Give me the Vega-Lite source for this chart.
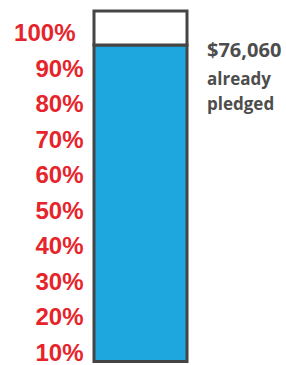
{
  "$schema": "https://vega.github.io/schema/vega-lite/v6.json",
  "width": 93,
  "height": 365,
  "autosize": "none",
  "padding": {"left": 94, "top": 0, "right": 99, "bottom": 0},
  "background": "white",
  "config": {"view": {"stroke": null}},
  "datasets": {
    "tube": [
      {"segment": "pledged", "from": 7.76, "to": 96.77},
      {"segment": "remaining", "from": 96.77, "to": 106.33}
    ],
    "summary": [
      {"pledged_usd": 76060}
    ]
  },
  "layer": [
    {
      "data": {"name": "tube"},
      "mark": {"type": "rect", "stroke": "#454545", "strokeWidth": 3},
      "encoding": {
        "y": {
          "field": "from",
          "type": "quantitative",
          "scale": {"domain": [6.78, 109.42], "nice": false, "zero": false},
          "axis": {
            "values": [10, 20, 30, 40, 50, 60, 70, 80, 90, 100],
            "labelExpr": "datum.value + '%'",
            "ticks": false,
            "domain": false,
            "grid": false,
            "title": null,
            "labelFont": "Liberation Sans",
            "labelFontSize": 24,
            "labelFontWeight": "bold",
            "labelColor": "#e6242b",
            "labelBaseline": "middle",
            "labelOverlap": false,
            "labelFlush": false,
            "labelPadding": {"condition": {"test": "datum.value == 100", "value": 19}, "value": 11}
          }
        },
        "y2": {"field": "to"},
        "fill": {
          "field": "segment",
          "type": "nominal",
          "scale": {"domain": ["pledged", "remaining"], "range": ["#1ea6df", "#ffffff"]},
          "legend": null
        }
      }
    },
    {
      "data": {"name": "summary"},
      "mark": {"type": "text", "align": "left", "baseline": "alphabetic", "dx": 20, "font": "Open Sans", "fontWeight": "bold", "fontSize": 20, "color": "#4d4d4d", "clip": false},
      "encoding": {
        "x": {"datum": 1, "type": "quantitative", "scale": {"domain": [0, 1], "nice": false}, "axis": null},
        "y": {"datum": 93.39, "type": "quantitative"},
        "text": {"field": "pledged_usd", "type": "quantitative", "format": "$,.0f"}
      }
    },
    {
      "data": {"name": "summary"},
      "mark": {"type": "text", "align": "left", "baseline": "alphabetic", "dx": 20, "font": "Open Sans", "fontWeight": "bold", "fontSize": 17, "lineHeight": 25, "color": "#4d4d4d", "clip": false, "text": ["already", "pledged"]},
      "encoding": {
        "x": {"datum": 1, "type": "quantitative"},
        "y": {"datum": 85.6, "type": "quantitative"}
      }
    }
  ]
}
